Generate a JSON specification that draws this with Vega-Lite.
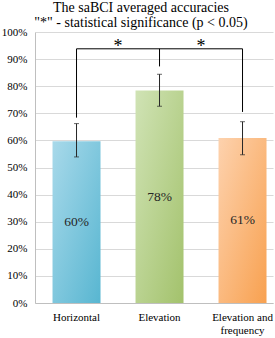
{
  "$schema": "https://vega.github.io/schema/vega-lite/v6.json",
  "autosize": "none",
  "padding": {"left": 35, "top": 32, "right": 2, "bottom": 35},
  "width": 238,
  "height": 271,
  "background": "white",
  "config": {
    "view": {"stroke": null},
    "font": "Liberation Serif",
    "text": {"font": "Liberation Serif"},
    "axis": {"labelFont": "Liberation Serif", "labelFontSize": 11, "labelColor": "#000000", "ticks": false, "labelPadding": 8, "domainColor": "#bfbfbf", "gridColor": "#d9d9d9"}
  },
  "title": {
    "text": ["The saBCI averaged accuracies", "\"*\" - statistical significance (p < 0.05)"],
    "font": "Liberation Serif",
    "fontSize": 14,
    "fontWeight": "normal",
    "color": "#000000",
    "lineHeight": 15,
    "anchor": "middle",
    "dx": -13,
    "offset": -4
  },
  "datasets": {
    "bars": [
      {"cond": "Horizontal", "acc": 59.7, "lo": 53.9, "hi": 66.2, "label": "60%"},
      {"cond": "Elevation", "acc": 78.4, "lo": 72.6, "hi": 84.4, "label": "78%"},
      {"cond": "Elevation and frequency", "acc": 60.9, "lo": 54.7, "hi": 66.9, "label": "61%"}
    ],
    "drops": [
      {"cond": "Horizontal", "top": 93.8, "bottom": 68.4},
      {"cond": "Elevation", "top": 93.8, "bottom": 87.3},
      {"cond": "Elevation and frequency", "top": 93.8, "bottom": 70.5}
    ],
    "span": [
      {"from": "Horizontal", "to": "Elevation and frequency", "level": 93.8}
    ],
    "stars": [
      {"cond": "Elevation", "level": 92.6, "sig": "*"},
      {"cond": "Elevation and frequency", "level": 92.6, "sig": "*"}
    ]
  },
  "layer": [
    {
      "data": {"name": "bars"},
      "mark": {"type": "bar"},
      "encoding": {
        "x": {
          "field": "cond", "type": "nominal", "sort": null,
          "scale": {"paddingInner": 0.4217, "paddingOuter": 0.1446, "align": 0.73},
          "axis": {
            "title": null,
            "labelAngle": 0,
            "labelExpr": "datum.value === 'Elevation and frequency' ? ['Elevation and', 'frequency'] : datum.label",
            "labelFont": "Liberation Serif",
            "labelFontSize": 11,
            "labelColor": "#000000",
            "labelLineHeight": 13,
            "labelPadding": 8,
            "ticks": false,
            "domainColor": "#bfbfbf",
            "grid": false
          }
        },
        "y": {
          "field": "acc", "type": "quantitative",
          "scale": {"domain": [0, 100], "nice": false},
          "axis": {
            "title": null,
            "values": [0, 10, 20, 30, 40, 50, 60, 70, 80, 90, 100],
            "labelOverlap": false,
            "labelExpr": "datum.value + '%'",
            "labelFont": "Liberation Serif",
            "labelFontSize": 11,
            "labelColor": "#000000",
            "labelPadding": 8,
            "ticks": false,
            "grid": true,
            "gridColor": "#d9d9d9",
            "domainColor": "#bfbfbf"
          }
        },
        "fill": {
          "condition": [
            {"test": "datum.cond === 'Horizontal'", "value": {"gradient": "linear", "x1": 0, "y1": 0, "x2": 1, "y2": 1, "stops": [{"offset": 0, "color": "#a8d9ea"}, {"offset": 1, "color": "#58b6d1"}]}},
            {"test": "datum.cond === 'Elevation'", "value": {"gradient": "linear", "x1": 0, "y1": 0, "x2": 1, "y2": 1, "stops": [{"offset": 0, "color": "#d0e3b5"}, {"offset": 1, "color": "#a3c26c"}]}}
          ],
          "value": {"gradient": "linear", "x1": 0, "y1": 0, "x2": 1, "y2": 1, "stops": [{"offset": 0, "color": "#fdd2ae"}, {"offset": 1, "color": "#f8a150"}]}
        }
      }
    },
    {
      "data": {"name": "bars"},
      "mark": {"type": "rule", "color": "#262626", "strokeWidth": 1},
      "encoding": {
        "x": {"field": "cond", "type": "nominal", "sort": null},
        "y": {"field": "lo", "type": "quantitative", "scale": {"domain": [0, 100], "nice": false}, "axis": null},
        "y2": {"field": "hi"}
      }
    },
    {
      "data": {"name": "bars"},
      "mark": {"type": "tick", "color": "#262626", "size": 5, "thickness": 1},
      "encoding": {
        "x": {"field": "cond", "type": "nominal", "sort": null},
        "y": {"field": "lo", "type": "quantitative", "scale": {"domain": [0, 100], "nice": false}, "axis": null}
      }
    },
    {
      "data": {"name": "bars"},
      "mark": {"type": "tick", "color": "#262626", "size": 5, "thickness": 1},
      "encoding": {
        "x": {"field": "cond", "type": "nominal", "sort": null},
        "y": {"field": "hi", "type": "quantitative", "scale": {"domain": [0, 100], "nice": false}, "axis": null}
      }
    },
    {
      "data": {"name": "drops"},
      "mark": {"type": "rule", "color": "#000000", "strokeWidth": 1},
      "encoding": {
        "x": {"field": "cond", "type": "nominal", "sort": null},
        "y": {"field": "top", "type": "quantitative", "scale": {"domain": [0, 100], "nice": false}, "axis": null},
        "y2": {"field": "bottom"}
      }
    },
    {
      "data": {"name": "span"},
      "mark": {"type": "rule", "color": "#000000", "strokeWidth": 1},
      "encoding": {
        "x": {"field": "from", "type": "nominal", "sort": null},
        "x2": {"field": "to"},
        "y": {"field": "level", "type": "quantitative", "scale": {"domain": [0, 100], "nice": false}, "axis": null}
      }
    },
    {
      "data": {"name": "stars"},
      "mark": {"type": "text", "font": "Liberation Serif", "fontSize": 18, "color": "#000000", "baseline": "alphabetic", "align": "center"},
      "encoding": {
        "x": {"field": "cond", "type": "nominal", "sort": null, "bandPosition": -0.3646},
        "y": {"field": "level", "type": "quantitative", "scale": {"domain": [0, 100], "nice": false}, "axis": null},
        "text": {"field": "sig"}
      }
    },
    {
      "data": {"name": "bars"},
      "mark": {"type": "text", "font": "Liberation Serif", "fontSize": 13.5, "color": "#262626", "baseline": "middle", "align": "center"},
      "encoding": {
        "x": {"field": "cond", "type": "nominal", "sort": null},
        "y": {"field": "acc", "type": "quantitative", "scale": {"domain": [0, 200], "nice": false}, "axis": null},
        "text": {"field": "label"}
      }
    }
  ],
  "resolve": {"scale": {"y": "independent"}}
}
